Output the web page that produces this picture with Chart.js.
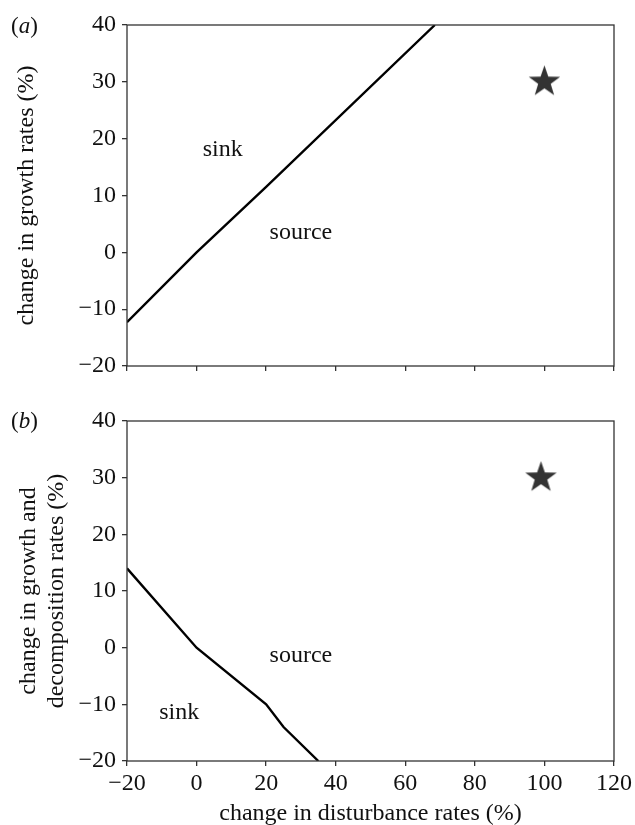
<!DOCTYPE html>
<html>
<head>
<meta charset="utf-8">
<script src="https://cdn.jsdelivr.net/npm/chart.js@4.4.1/dist/chart.umd.min.js"></script>
<style>
  body { margin: 0; background: #fff; }
  #wrap { position: relative; width: 635px; height: 825px; }
  .panel { position: absolute; left: 0; width: 635px; }
  .tag { position: absolute; left: 11px; font: 23px "Liberation Serif", serif; color: #111; }
  .tag i { font-style: italic; }
</style>
</head>
<body>
<div id="wrap">
  <div class="panel" style="top:0;height:400px"><canvas id="chartA"></canvas></div>
  <div class="panel" style="top:400px;height:425px"><canvas id="chartB"></canvas></div>
  <div class="tag" style="top:13px">(<i>a</i>)</div>
  <div class="tag" style="top:408px">(<i>b</i>)</div>
</div>
<script>
// boundary between sink and source, panel (a)
const disturbanceA = [-20, 0, 20, 68.5];
const growthA = [-12.3, 0, 11.5, 40];
// boundary, panel (b)
const disturbanceB = [-20, 0, 20, 25, 35];
const growthB = [14, 0, -10, -14, -20];
// projected change (star)
const starA = [100, 30];
const starB = [99, 30];

const xTicks = [-20, 0, 20, 40, 60, 80, 100, 120];
const yTicks = [-20, -10, 0, 10, 20, 30, 40];

const serif = '"Liberation Serif", "Times New Roman", serif';
const ink = '#333';
const FS = 24;

// filled five-point star used as point style
function makeStar(r) {
  const c = document.createElement('canvas');
  const s = Math.ceil(r * 2 + 2);
  c.width = s; c.height = s;
  const g = c.getContext('2d');
  g.translate(s / 2, s / 2);
  g.beginPath();
  for (let i = 0; i < 10; i++) {
    const rad = i % 2 === 0 ? r : r * 0.4;
    const a = -Math.PI / 2 + i * Math.PI / 5;
    g.lineTo(rad * Math.cos(a), rad * Math.sin(a));
  }
  g.closePath();
  g.fillStyle = '#333';
  g.fill();
  return c;
}
const starImg = makeStar(16.5);

function pairs(xs, ys) {
  return xs.map((x, i) => ({ x: x, y: ys[i] }));
}

function minus(v) {
  return String(v).replace('-', '\u2212');
}

// box round the plot area + region labels
const framePlugin = {
  id: 'frame',
  afterDraw(chart, args, opts) {
    const { ctx, chartArea: a, scales } = chart;
    ctx.save();
    ctx.strokeStyle = ink;
    ctx.lineWidth = 1.3;
    ctx.strokeRect(a.left, a.top, a.right - a.left, a.bottom - a.top);
    ctx.fillStyle = '#111';
    ctx.font = FS + 'px ' + serif;
    ctx.textAlign = 'center';
    ctx.textBaseline = 'middle';
    (opts.labels || []).forEach(l => {
      ctx.fillText(l.text, scales.x.getPixelForValue(l.x), scales.y.getPixelForValue(l.y));
    });
    ctx.restore();
  }
};

function makeChart(id, line, star, cfg) {
  return new Chart(document.getElementById(id), {
    type: 'scatter',
    data: {
      datasets: [
        {
          data: line,
          showLine: true,
          borderColor: '#000',
          borderWidth: 2.4,
          pointRadius: 0,
          tension: 0
        },
        {
          data: [{ x: star[0], y: star[1] }],
          pointStyle: starImg,
          pointRadius: 16
        }
      ]
    },
    options: {
      responsive: true,
      maintainAspectRatio: false,
      animation: false,
      layout: { padding: { top: cfg.top, right: 21, left: 0, bottom: 0 } },
      plugins: {
        legend: { display: false },
        tooltip: { enabled: false },
        frame: { labels: cfg.labels }
      },
      scales: {
        x: {
          type: 'linear',
          min: -20, max: 120,
          afterBuildTicks: s => { s.ticks = xTicks.map(v => ({ value: v })); },
          afterFit: s => { s.height = cfg.xHeight; },
          border: { display: false },
          grid: { drawOnChartArea: false, tickLength: 5, color: ink, lineWidth: 1.3 },
          ticks: {
            display: cfg.xLabels,
            padding: 3,
            color: '#111',
            font: { family: serif, size: FS },
            callback: v => minus(v)
          },
          title: {
            display: !!cfg.xTitle,
            text: cfg.xTitle || '',
            color: '#111',
            font: { family: serif, size: FS },
            padding: { top: 0, bottom: -3 }
          }
        },
        y: {
          type: 'linear',
          min: -20, max: 40,
          afterBuildTicks: s => { s.ticks = yTicks.map(v => ({ value: v })); },
          afterFit: s => { s.width = 127; },
          border: { display: false },
          grid: { drawOnChartArea: false, tickLength: 5, color: ink, lineWidth: 1.3 },
          ticks: {
            padding: 6,
            color: '#111',
            font: { family: serif, size: FS },
            callback: v => minus(v)
          },
          title: {
            display: true,
            text: cfg.yTitle,
            color: '#111',
            font: { family: serif, size: FS, lineHeight: 1.2 },
            padding: { top: cfg.yTitlePad, bottom: 0 }
          }
        }
      }
    },
    plugins: [framePlugin]
  });
}

makeChart('chartA', pairs(disturbanceA, growthA), starA, {
  top: 25,
  xHeight: 34,
  xLabels: false,
  yTitle: 'change in growth rates (%)',
  yTitlePad: 12,
  labels: [
    { text: 'sink', x: 7.5, y: 18 },
    { text: 'source', x: 30, y: 3.5 }
  ]
});

makeChart('chartB', pairs(disturbanceB, growthB), starB, {
  top: 21,
  xHeight: 64,
  xLabels: true,
  xTitle: 'change in disturbance rates (%)',
  yTitle: ['change in growth and', 'decomposition rates (%)'],
  yTitlePad: 14,
  labels: [
    { text: 'source', x: 30, y: -1.5 },
    { text: 'sink', x: -5, y: -11.5 }
  ]
});
</script>
</body>
</html>
